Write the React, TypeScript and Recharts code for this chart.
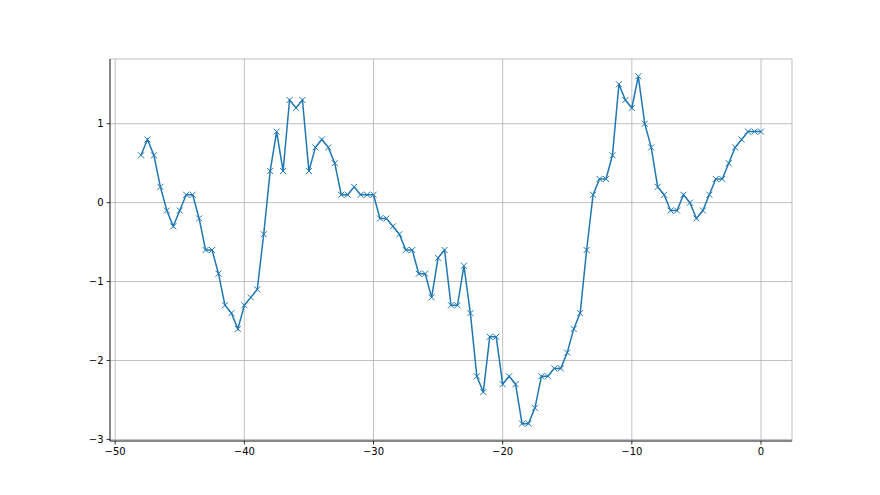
import React from "react"
import { LineChart, Line, XAxis, YAxis, CartesianGrid } from "recharts"

const xValues = [
  -48, -47.5, -47, -46.5, -46, -45.5, -45, -44.5, -44, -43.5,
  -43, -42.5, -42, -41.5, -41, -40.5, -40, -39.5, -39, -38.5,
  -38, -37.5, -37, -36.5, -36, -35.5, -35, -34.5, -34, -33.5,
  -33, -32.5, -32, -31.5, -31, -30.5, -30, -29.5, -29, -28.5,
  -28, -27.5, -27, -26.5, -26, -25.5, -25, -24.5, -24, -23.5,
  -23, -22.5, -22, -21.5, -21, -20.5, -20, -19.5, -19, -18.5,
  -18, -17.5, -17, -16.5, -16, -15.5, -15, -14.5, -14, -13.5,
  -13, -12.5, -12, -11.5, -11, -10.5, -10, -9.5, -9, -8.5,
  -8, -7.5, -7, -6.5, -6, -5.5, -5, -4.5, -4, -3.5,
  -3, -2.5, -2, -1.5, -1, -0.5, 0,
]

const yValues = [
  0.6, 0.8, 0.6, 0.2, -0.1, -0.3, -0.1, 0.1, 0.1, -0.2,
  -0.6, -0.6, -0.9, -1.3, -1.4, -1.6, -1.3, -1.2, -1.1, -0.4,
  0.4, 0.9, 0.4, 1.3, 1.2, 1.3, 0.4, 0.7, 0.8, 0.7,
  0.5, 0.1, 0.1, 0.2, 0.1, 0.1, 0.1, -0.2, -0.2, -0.3,
  -0.4, -0.6, -0.6, -0.9, -0.9, -1.2, -0.7, -0.6, -1.3, -1.3,
  -0.8, -1.4, -2.2, -2.4, -1.7, -1.7, -2.3, -2.2, -2.3, -2.8,
  -2.8, -2.6, -2.2, -2.2, -2.1, -2.1, -1.9, -1.6, -1.4, -0.6,
  0.1, 0.3, 0.3, 0.6, 1.5, 1.3, 1.2, 1.6, 1.0, 0.7,
  0.2, 0.1, -0.1, -0.1, 0.1, 0.0, -0.2, -0.1, 0.1, 0.3,
  0.3, 0.5, 0.7, 0.8, 0.9, 0.9, 0.9,
]

const xTicks = [-50, -40, -30, -20, -10, 0]
const yTicks = [-3, -2, -1, 0, 1]

const data = xValues.map((x, i) => ({ x, y: yValues[i] }))

const BLUE = "#1f77b4"
const font = { fontFamily: "DejaVu Sans", fontSize: 10, fill: "#000" }
const fmt = (v: number) => String(v).replace("-", "\u2212")

function XMark(props: any) {
  const { cx, cy, index } = props
  if (cx == null || cy == null) return <g key={`m-${index}`} />
  const s = 3
  return (
    <path
      key={`m-${index}`}
      d={`M${cx - s},${cy - s}L${cx + s},${cy + s}M${cx - s},${cy + s}L${cx + s},${cy - s}`}
      stroke={BLUE}
      strokeWidth={1}
      fill="none"
    />
  )
}

export default function App() {
  return (
    <div style={{ position: "fixed", left: 0, top: 0, width: 880, height: 495, background: "#fff" }}>
      <LineChart
        width={880}
        height={495}
        data={data}
        margin={{ top: 59, right: 88, bottom: 24, left: 60 }}
      >
        <CartesianGrid stroke="#b0b0b0" strokeWidth={0.8} />
        <XAxis
          dataKey="x"
          type="number"
          domain={[-50.4, 2.4]}
          ticks={xTicks}
          allowDataOverflow
          height={30}
          tickSize={3.5}
          tickMargin={3}
          tick={font}
          tickFormatter={fmt}
          stroke="#000"
          axisLine={{ stroke: "#000", strokeWidth: 0.8 }}
          tickLine={{ stroke: "#000", strokeWidth: 0.8 }}
        />
        <XAxis
          xAxisId="top"
          orientation="top"
          dataKey="x"
          type="number"
          domain={[-50.4, 2.4]}
          height={0}
          tick={false}
          tickLine={false}
          axisLine={{ stroke: "#000", strokeWidth: 0.8 }}
        />
        <YAxis
          type="number"
          domain={[-3.02, 1.82]}
          ticks={yTicks}
          allowDataOverflow
          width={50}
          tickSize={3.5}
          tickMargin={3}
          tick={font}
          tickFormatter={fmt}
          stroke="#000"
          axisLine={{ stroke: "#000", strokeWidth: 0.8 }}
          tickLine={{ stroke: "#000", strokeWidth: 0.8 }}
        />
        <YAxis
          yAxisId="right"
          orientation="right"
          type="number"
          domain={[-3.02, 1.82]}
          width={0}
          tick={false}
          tickLine={false}
          axisLine={{ stroke: "#000", strokeWidth: 0.8 }}
        />
        <Line
          dataKey="y"
          stroke={BLUE}
          strokeWidth={1.5}
          type="linear"
          dot={XMark}
          activeDot={false}
          isAnimationActive={false}
        />
      </LineChart>
    </div>
  )
}
